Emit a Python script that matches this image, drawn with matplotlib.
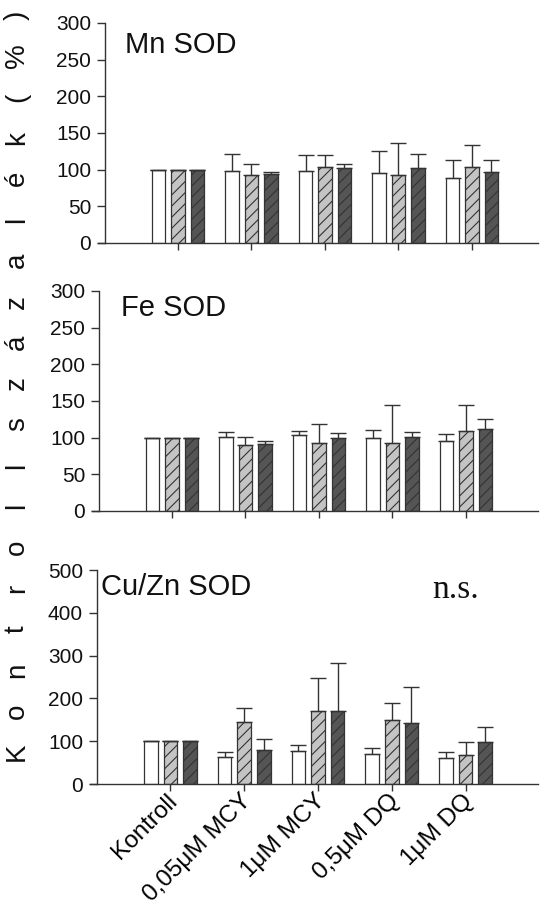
import matplotlib
matplotlib.use('Agg')
import matplotlib.pyplot as plt
import matplotlib.transforms as mtransforms
import numpy as np

plt.rcParams['font.family'] = ['Liberation Sans', 'DejaVu Sans']
plt.rcParams['hatch.linewidth'] = 0.8

# data ------------------------------------------------------------
groups = ['Kontroll', '0,05μM MCY', '1μM MCY', '0,5μM DQ', '1μM DQ']
panel_names = ['Mn SOD', 'Fe SOD', 'Cu/Zn SOD']

# mean values (% of control), three series per group
mn_white = [100, 98, 97.7, 95.3, 88.4]
mn_light = [100, 92.6, 103.2, 92.6, 103.2]
mn_dark = [100, 94.4, 102.3, 102.3, 96.3]
mn_white_err = [0, 23, 22.5, 30.5, 24.5]
mn_light_err = [0, 15.5, 16.5, 44, 30]
mn_dark_err = [0, 3, 6, 19, 17.5]

fe_white = [100, 101, 103, 100, 95]
fe_light = [100, 90, 92.5, 93, 109]
fe_dark = [100, 92, 100, 101, 112.5]
fe_white_err = [0, 7, 6, 10, 10]
fe_light_err = [0, 11.5, 26, 52, 36]
fe_dark_err = [0, 3.5, 6, 6.5, 12.5]

cz_white = [100, 62.4, 78, 71, 60]
cz_light = [100, 146, 170, 149, 68]
cz_dark = [100, 79, 170, 143, 97.5]
cz_white_err = [0, 13.5, 13, 13.5, 14]
cz_light_err = [0, 32, 77, 41, 31]
cz_dark_err = [0, 27, 112, 83, 36]

y_ticks = [[0, 50, 100, 150, 200, 250, 300],
           [0, 50, 100, 150, 200, 250, 300],
           [0, 100, 200, 300, 400, 500]]

ylabel_chars = list('Kontrollszázalék(%)')

# style -----------------------------------------------------------
W, H = 548, 914
EDGE = '#333333'
FILLS = ['white', '#c4c4c4', '#555555']
HATCHES = [None, '///', '///']

# axes rectangles in pixels: left, top, width, height
RECTS = [(98, 23, 440, 220), (92, 291, 446, 220), (90, 570, 448, 214)]
XLIMS = [(-1.088, 4.898), (-1.088, 4.98), (-1.088, 4.98)]


def draw_panel(ax, means, errs, yt, xlim, spine_frac):
    x = np.arange(len(groups))
    width = 0.184
    offs = [-0.265, 0, 0.265]
    for k in range(3):
        ax.bar(x + offs[k], means[k], width, color=FILLS[k], edgecolor=EDGE,
               linewidth=0.9, hatch=HATCHES[k], zorder=2)
        ax.errorbar(x + offs[k], means[k],
                    yerr=[np.zeros(len(groups)), errs[k]],
                    fmt='none', ecolor=EDGE, elinewidth=1.0, capsize=6,
                    capthick=1.0, zorder=3)
    ax.set_xlim(*xlim)
    ax.set_ylim(yt[0], yt[-1])
    ax.set_yticks(yt)
    ax.set_xticks(x)
    for s in ['top', 'right']:
        ax.spines[s].set_visible(False)
    ax.spines['left'].set_position(('axes', spine_frac))
    ax.spines['left'].set_bounds(yt[0], yt[-1])
    for s in ['left', 'bottom']:
        ax.spines[s].set_color(EDGE)
        ax.spines[s].set_linewidth(1.0)
    ax.tick_params(axis='y', length=6, width=1.0, color=EDGE, pad=4,
                   labelsize=15, labelcolor='#111111')
    ax.tick_params(axis='x', length=5, width=1.0, color=EDGE)


fig = plt.figure(figsize=(W / 100, H / 100), dpi=100, facecolor='white')

data = [
    ([mn_white, mn_light, mn_dark], [mn_white_err, mn_light_err, mn_dark_err]),
    ([fe_white, fe_light, fe_dark], [fe_white_err, fe_light_err, fe_dark_err]),
    ([cz_white, cz_light, cz_dark], [cz_white_err, cz_light_err, cz_dark_err]),
]

axes = []
for i, (rect, (means, errs)) in enumerate(zip(RECTS, data)):
    l, t, w, h = rect
    ax = fig.add_axes([l / W, 1 - (t + h) / H, w / W, h / H])
    draw_panel(ax, means, errs, y_ticks[i], XLIMS[i], 7 / w)
    axes.append(ax)

# x labels only on the bottom panel
for ax in axes[:2]:
    ax.set_xticklabels([])
axes[2].tick_params(axis='x', pad=5)
labels = axes[2].set_xticklabels(groups, rotation=45, ha='right', va='center',
                                 rotation_mode='anchor', fontsize=17.5)
shift = mtransforms.ScaledTranslation(4 / 100, 0, fig.dpi_scale_trans)
for lab in labels:
    lab.set_transform(lab.get_transform() + shift)

# panel titles (pixel positions of the baseline)
title_pos = [(125, 53), (121, 316), (101, 595)]
for name, (tx, ty) in zip(panel_names, title_pos):
    fig.text(tx / W, 1 - ty / H, name, fontsize=21, ha='left',
             va='baseline', color='#111111')

fig.text(432 / W, 1 - 598 / H, 'n.s.', fontsize=24, ha='left', va='baseline',
         family=['Liberation Serif', 'DejaVu Serif'], color='#111111')

# letter-spaced vertical y label
ys = np.linspace(752, 15, len(ylabel_chars))
for ch, yy in zip(ylabel_chars, ys):
    fig.text(17 / W, 1 - yy / H, ch, rotation=90, fontsize=20,
             ha='center', va='center', color='#111111')

fig.savefig('out.png', dpi=100, facecolor='white')
